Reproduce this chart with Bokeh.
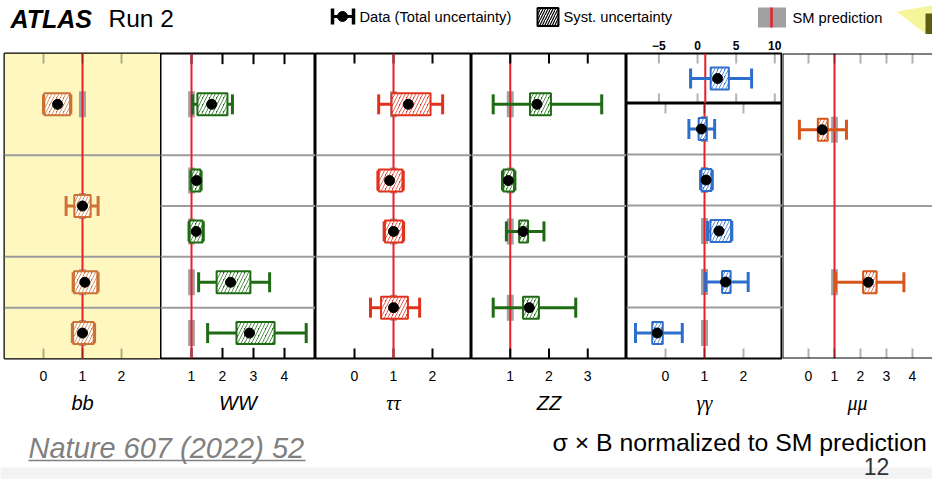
import math
from bokeh.plotting import figure
from bokeh.layouts import row, column
from bokeh.models import Range1d, LinearAxis, FixedTicker, Span, BoxAnnotation
from bokeh.core.properties import value
from bokeh.embed import file_html
from bokeh.resources import INLINE

# ---------------- data (signal strength, sigma x B / SM) ----------------
categories = ["bb", "WW", "ττ", "ZZ", "γγ", "μμ"]

bb_y      = [5.0, 3.0, 1.5, 0.5]
bb_val    = [0.36, 1.00, 1.06, 1.00]
bb_tot_lo = [0.00, 0.58, 0.76, 0.74]
bb_tot_hi = [0.70, 1.40, 1.40, 1.31]
bb_sys_lo = [0.02, 0.79, 0.78, 0.76]
bb_sys_hi = [0.68, 1.21, 1.38, 1.29]

ww_y      = [5.0, 3.5, 2.5, 1.5, 0.5]
ww_val    = [1.65, 1.16, 1.15, 2.26, 2.87]
ww_tot_lo = [1.03, 0.98, 0.92, 1.23, 1.52]
ww_tot_hi = [2.32, 1.31, 1.38, 3.52, 4.70]
ww_sys_lo = [1.19, 1.00, 0.94, 1.81, 2.45]
ww_sys_hi = [2.16, 1.29, 1.36, 2.90, 3.68]

tt_y      = [5.0, 3.5, 2.5, 1.0]
tt_val    = [1.38, 0.90, 1.00, 1.00]
tt_tot_lo = [0.62, 0.60, 0.76, 0.41]
tt_tot_hi = [2.26, 1.25, 1.26, 1.67]
tt_sys_lo = [0.95, 0.62, 0.78, 0.68]
tt_sys_hi = [1.95, 1.23, 1.24, 1.37]

zz_y      = [5.0, 3.5, 2.5, 1.0]
zz_val    = [1.69, 0.95, 1.33, 1.49]
zz_tot_lo = [0.56, 0.80, 0.90, 0.56]
zz_tot_hi = [3.36, 1.12, 1.87, 2.69]
zz_sys_lo = [1.51, 0.82, 1.23, 1.33]
zz_sys_hi = [2.05, 1.10, 1.46, 1.74]

gg_top_y      = [5.5]
gg_top_val    = [2.6]
gg_top_tot_lo = [-0.9]
gg_top_tot_hi = [7.0]
gg_top_sys_lo = [1.7]
gg_top_sys_hi = [4.05]

gg_y      = [4.5, 3.5, 2.5, 1.5, 0.5]
gg_val    = [0.92, 1.04, 1.37, 1.54, -0.21]
gg_tot_lo = [0.60, 0.90, 1.08, 1.03, -0.77]
gg_tot_hi = [1.26, 1.20, 1.70, 2.12, 0.43]
gg_sys_lo = [0.85, 0.92, 1.15, 1.45, -0.34]
gg_sys_hi = [1.05, 1.18, 1.68, 1.67, -0.07]

mm_y      = [4.5, 1.5]
mm_val    = [0.53, 2.30]
mm_tot_lo = [-0.35, 1.04]
mm_tot_hi = [1.46, 3.67]
mm_sys_lo = [0.36, 2.10]
mm_sys_hi = [0.74, 2.62]

sm_value = 1.0
sm_half = [0.09, 0.11, 0.09, 0.09, 0.09, 0.13]   # half width of SM-uncertainty band

# axis ranges / ticks / row separators
bb_range, bb_ticks, bb_rows = (-1, 3), [0, 1, 2], [4, 2, 1]
ww_range, ww_ticks, ww_rows = (0, 5), [1, 2, 3, 4], [4, 3, 2, 1]
tt_range, tt_ticks, tt_rows = (-1, 3), [0, 1, 2], [4, 3, 2]
zz_range, zz_ticks, zz_rows = (0, 4), [1, 2, 3], [4, 3, 2]
gg_range, gg_ticks, gg_rows = (-1, 3), [0, 1, 2], [4, 3, 2, 1]
gg_top_range, gg_top_ticks = (-9.2, 11.0), [-5, 0, 5, 10]
mm_range, mm_ticks, mm_rows = (-1, 4.77), [0, 1, 2, 3, 4], [3]

# ---------------- style ----------------
C_BB = "#cc7235"
C_GREEN = "#1e6b14"
C_TT = "#e1321e"
C_GG = "#2d6ecd"
C_MM = "#d6561b"
RED = "#e8202a"
GREY = "#a3a3a3"
ROWGREY = "#9c9c9c"
SANS = "Liberation Sans"
SERIF = "Liberation Serif"
TICK_PX = 10

TOP_B = 19
BOT_B = 62
FRAME_H = 305
PANEL_H = TOP_B + FRAME_H + BOT_B
GG_TOP_FRAME = 50
GG_MAIN_FRAME = FRAME_H - GG_TOP_FRAME


def base_fig(width, height, xr, yr, left=0, top=0, bottom=0, outline=True):
    p = figure(width=width, height=height, x_range=Range1d(*xr), y_range=Range1d(*yr),
               output_backend="svg", toolbar_location=None,
               x_axis_location=None, y_axis_location=None,
               min_border_left=left, min_border_right=0,
               min_border_top=top, min_border_bottom=bottom,
               outline_line_color="black" if outline else None, outline_line_width=2,
               background_fill_color="white", border_fill_color="white")
    p.grid.visible = False
    return p


def label_axis(ticks, font_size="14px", standoff=12, label=None, label_font=SANS, bold=False):
    ax = LinearAxis(ticker=FixedTicker(ticks=list(ticks)), axis_line_color=None,
                    major_tick_in=0, major_tick_out=0, major_tick_line_color=None,
                    minor_tick_line_color=None,
                    major_label_text_font=SANS, major_label_text_font_size=font_size,
                    major_label_standoff=standoff, major_label_text_color="black")
    if bold:
        ax.major_label_text_font_style = "bold"
    ax.major_label_overrides = {t: ("\u2212" + str(-t)) for t in ticks if t < 0}
    if label is not None:
        ax.axis_label = label
        ax.axis_label_text_font = label_font
        ax.axis_label_text_font_size = "20px"
        ax.axis_label_text_font_style = "italic"
        ax.axis_label_standoff = 8
        ax.axis_label_text_color = "black"
    return ax


def tick_marks(p, ticks, lo, hi, frame_px, mode):
    L = TICK_PX * (hi - lo) / frame_px          # tick length in data units
    n = len(ticks)
    if mode == "box":
        for t in ticks:
            for b, tp in ((lo, lo + L), (hi - L, hi)):
                p.add_layout(BoxAnnotation(left=t, right=t, bottom=b, top=tp,
                                           line_color="black", line_width=2,
                                           fill_color=None, level="overlay"))
    elif mode == "vbar":
        p.vbar(x=list(ticks) * 2, width=0.0001, bottom=[lo] * n + [hi - L] * n,
               top=[lo + L] * n + [hi] * n, line_color="black", line_width=2,
               fill_color="black")
    elif mode == "quad":
        p.quad(left=list(ticks) * 2, right=list(ticks) * 2, bottom=[lo] * n + [hi - L] * n,
               top=[lo + L] * n + [hi] * n, line_color="black", line_width=2)
    elif mode == "rect_over":
        off = L / 2
        p.rect(x=list(ticks) * 2, y=[lo + off] * n + [hi - off] * n, width=2,
               width_units="screen", height=TICK_PX, height_units="screen",
               fill_color="black", line_color=None, level="overlay")


def decorate(p, rows):
    for r in rows:
        p.add_layout(Span(location=r, dimension="width", line_color=ROWGREY,
                          line_width=2, level="underlay"))
    p.add_layout(Span(location=sm_value, dimension="height", line_color=RED,
                      line_width=2, level="annotation"))


def draw(p, y, val, tlo, thi, slo, shi, color, hw, sm=True):
    n = len(y)
    if sm:
        p.rect(x=[sm_value] * n, y=y, width=2 * hw, height=26, height_units="screen",
               fill_color=GREY, line_color=None)
    p.segment(x0=tlo, y0=y, x1=thi, y1=y, line_color=color, line_width=3, level="overlay")
    for xs in (tlo, thi):
        p.rect(x=xs, y=y, width=3, width_units="screen", height=20, height_units="screen",
               fill_color=color, line_color=None, level="overlay")
    xc = [(a + b) / 2 for a, b in zip(slo, shi)]
    w = [b - a for a, b in zip(slo, shi)]
    p.rect(x=xc, y=y, width=w, height=22, height_units="screen",
           fill_color=color, line_color=color, line_width=2,
           hatch_pattern="/", hatch_color="white", hatch_scale=7, hatch_weight=2.5,
           level="overlay")
    p.scatter(x=val, y=y, size=10, color="black", level="overlay")


def panel(width, left, xr, ticks, rows, label, label_font, data, color, hw, outline=True,
          mode="box"):
    p = base_fig(width, PANEL_H, xr, (0, 6), left=left, top=TOP_B, bottom=BOT_B, outline=outline)
    p.add_layout(label_axis(ticks, label=label, label_font=label_font), "below")
    decorate(p, rows)
    draw(p, *data, color, hw)
    tick_marks(p, ticks, 0, 6, FRAME_H, mode)
    return p


p_bb = panel(160, 4, bb_range, bb_ticks, bb_rows, categories[0], SANS,
             (bb_y, bb_val, bb_tot_lo, bb_tot_hi, bb_sys_lo, bb_sys_hi), C_BB, sm_half[0],
             mode="box")
# diagnostic tint showing where glyphs can be drawn
p_bb.quad(left=[bb_range[0]], right=[bb_range[1]], bottom=[0], top=[6],
          fill_color="#fff7c0", line_color=None, level="image")
p_ww = panel(155, 0, ww_range, ww_ticks, ww_rows, categories[1], SANS,
             (ww_y, ww_val, ww_tot_lo, ww_tot_hi, ww_sys_lo, ww_sys_hi), C_GREEN, sm_half[1],
             mode="vbar")
p_tt = panel(156, 0, tt_range, tt_ticks, tt_rows, categories[2], SERIF,
             (tt_y, tt_val, tt_tot_lo, tt_tot_hi, tt_sys_lo, tt_sys_hi), C_TT, sm_half[2],
             mode="quad")
p_zz = panel(155, 0, zz_range, zz_ticks, zz_rows, categories[3], SANS,
             (zz_y, zz_val, zz_tot_lo, zz_tot_hi, zz_sys_lo, zz_sys_hi), C_GREEN, sm_half[3],
             mode="rect_over")
p_mm = panel(150, 0, mm_range, mm_ticks, mm_rows, categories[5], SERIF,
             (mm_y, mm_val, mm_tot_lo, mm_tot_hi, mm_sys_lo, mm_sys_hi), C_MM, sm_half[5],
             outline=False, mode="box")
for loc, dim in ((6, "width"), (0, "width"), (mm_range[0], "height")):
    p_mm.add_layout(Span(location=loc, dimension=dim, line_color="black", line_width=2,
                         level="overlay"))

# gamma-gamma: separate top sub-panel with wide axis
p_gg_top = base_fig(156, TOP_B + GG_TOP_FRAME, gg_top_range, (5, 6), top=TOP_B, bottom=0)
p_gg_top.add_layout(label_axis(gg_top_ticks, font_size="12px", standoff=4, bold=True), "above")
decorate(p_gg_top, [])
draw(p_gg_top, gg_top_y, gg_top_val, gg_top_tot_lo, gg_top_tot_hi, gg_top_sys_lo,
     gg_top_sys_hi, C_GG, 0.4, sm=False)
tick_marks(p_gg_top, gg_top_ticks, 5, 6, GG_TOP_FRAME, "box")

p_gg = base_fig(156, PANEL_H - TOP_B - GG_TOP_FRAME, gg_range, (0, 5), top=0, bottom=BOT_B)
p_gg.add_layout(label_axis(gg_ticks, label=categories[4], label_font=SERIF), "below")
decorate(p_gg, gg_rows)
draw(p_gg, gg_y, gg_val, gg_tot_lo, gg_tot_hi, gg_sys_lo, gg_sys_hi, C_GG, sm_half[4])
tick_marks(p_gg, gg_ticks, 0, 5, GG_MAIN_FRAME, "box")

# ---------------- header (title + legend) ----------------
HEAD_H = 34
FS = value(SANS)
h = base_fig(932, HEAD_H, (0, 932), (HEAD_H, 0), outline=False)
h.text(x=[10], y=[18], text=["ATLAS"], text_font=FS, text_font_size="25px",
       text_font_style="bold italic", text_baseline="middle")
h.text(x=[108], y=[18], text=["Run 2"], text_font=FS, text_font_size="24.5px",
       text_baseline="middle")
leg_y = 16
h.segment(x0=[331], y0=[leg_y], x1=[353], y1=[leg_y], line_color="black", line_width=3)
h.rect(x=[332, 353], y=[leg_y, leg_y], width=3.5, height=16, fill_color="black", line_color=None)
h.scatter(x=[342], y=[leg_y], size=10, color="black")
h.text(x=[359], y=[leg_y + 0.5], text=["Data (Total uncertainty)"], text_font=FS,
       text_font_size="14.7px", text_baseline="middle")
h.rect(x=[547.5], y=[16.5], width=21, height=18, fill_color="white", line_color="black",
       line_width=2, hatch_pattern="/", hatch_color="black", hatch_scale=5, hatch_weight=1.2)
h.text(x=[563], y=[leg_y + 0.5], text=["Syst. uncertainty"], text_font=FS,
       text_font_size="14.7px", text_baseline="middle")
h.rect(x=[771.5], y=[17], width=28, height=20, fill_color="#a0a0a0", line_color=None)
h.segment(x0=[771], y0=[7], x1=[771], y1=[27], line_color=RED, line_width=2.5)
h.text(x=[792], y=[leg_y + 1], text=["SM prediction"], text_font=FS,
       text_font_size="14.7px", text_baseline="middle")
h.patch(x=[896, 932, 932, 926], y=[11, 5, 34, 34], fill_color="#f6f38a", line_color=None,
        fill_alpha=0.85)
h.quad(left=[925], right=[932], top=[13], bottom=[34], fill_color="#5e5d14", line_color=None)

# ---------------- footer ----------------
FOOT_H = 479 - HEAD_H - PANEL_H
f = base_fig(932, FOOT_H, (0, 932), (FOOT_H, 0), outline=False)
f.quad(left=[0], right=[932], top=[FOOT_H - 12], bottom=[FOOT_H], fill_color="#f3f3f3",
       line_color=None)
f.text(x=[28], y=[27], text=["Nature 607 (2022) 52"], text_font=FS, text_font_size="29px",
       text_font_style="italic", text_color="#808080", text_baseline="middle")
f.segment(x0=[28], y0=[40], x1=[305], y1=[40], line_color="#808080", line_width=1.5)
f.text(x=[552], y=[22], text=["σ × B normalized to SM prediction"], text_font=FS,
       text_font_size="24.8px", text_baseline="middle")
f.text(x=[876], y=[46], text=["12"], text_font=FS, text_font_size="23px",
       text_color="#333333", text_align="center", text_baseline="middle")

layout = column(h, row(p_bb, p_ww, p_tt, p_zz, column(p_gg_top, p_gg), p_mm), f)

open("out.html", "w").write(file_html(layout, INLINE))
